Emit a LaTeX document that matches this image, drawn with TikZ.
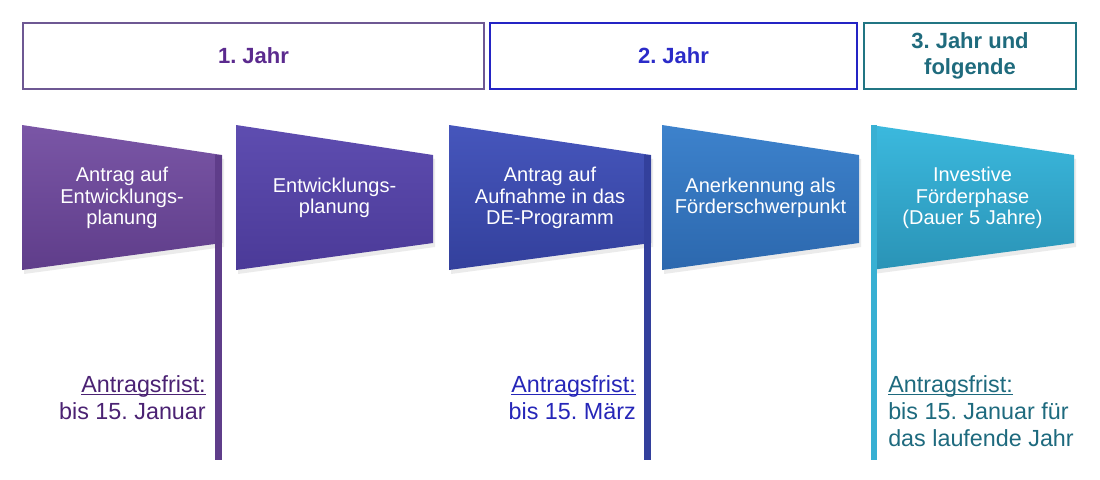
\documentclass[tikz,border=0pt]{standalone}
\usepackage{fontspec}
\setmainfont{Liberation Sans}
\frenchspacing

\definecolor{rLila}{HTML}{6E5893}
\definecolor{tLila}{HTML}{5B2A8E}
\definecolor{rBlau}{HTML}{2424C4}
\definecolor{tBlau}{HTML}{2B2BC8}
\definecolor{rTeal}{HTML}{217583}
\definecolor{tTeal}{HTML}{1F6B7D}
\definecolor{fLila}{HTML}{4B2273}
\definecolor{fBlau}{HTML}{2626B8}
\definecolor{fTeal}{HTML}{1E6A7E}
\definecolor{fa1}{HTML}{7A56A6}\definecolor{fa2}{HTML}{5F3D8A}
\definecolor{fb1}{HTML}{5E4DB0}\definecolor{fb2}{HTML}{4B3A98}
\definecolor{fc1}{HTML}{4656BC}\definecolor{fc2}{HTML}{33409C}
\definecolor{fd1}{HTML}{3D82CC}\definecolor{fd2}{HTML}{2C68AE}
\definecolor{fe1}{HTML}{3BB9DE}\definecolor{fe2}{HTML}{2A93B6}
\newcommand{\unterstrich}[1]{\setbox0\hbox{#1}\rlap{\rule[-0.12em]{\wd0}{0.06em}}\box0}

\begin{document}
\begin{tikzpicture}[x=0.75pt,y=-0.75pt,
    jahrbox/.style={draw=#1,line width=1.5pt,anchor=north west,align=center,
      font=\bfseries\fontsize{16.5}{19.5}\selectfont},
    flagtext/.style={text=white,align=center,font=\fontsize{15}{16.2}\selectfont},
    frist/.style={align=#1,inner sep=0pt,font=\fontsize{17.5}{20.25}\selectfont}]
  \useasboundingbox (0,0) rectangle (1100,479);
  % Jahre
  \node[jahrbox=rLila,text=tLila,minimum width=345.75pt,minimum height=49.5pt]
    (jahr1) at (22,22) {1. Jahr};
  \node[jahrbox=rBlau,text=tBlau,minimum width=275.25pt,minimum height=49.5pt]
    (jahr2) at (489,22) {2. Jahr};
  \node[jahrbox=rTeal,text=tTeal,minimum width=159pt,minimum height=49.5pt]
    (jahr3) at (863,22) {3. Jahr und\\folgende};
  % Fahnen
  \foreach \nm/\xa/\xb/\ca/\cb/\tx in {
      fahne1/22/222/fa1/fa2/{Antrag auf\\Entwicklungs-\\planung},
      fahne2/236/433/fb1/fb2/{Entwicklungs-\\planung},
      fahne3/449/651/fc1/fc2/{Antrag auf\\Aufnahme in das\\DE-Programm},
      fahne4/662/859/fd1/fd2/{Anerkennung als\\Förderschwerpunkt},
      fahne5/871/1074/fe1/fe2/{Investive\\Förderphase\\(Dauer 5 Jahre)}} {
    \fill[black,opacity=0.08] (\xa+2,129) -- (\xb+2,159) -- (\xb+2,247)
      -- (\xa+2,274) -- cycle;
    \shade[top color=\ca,bottom color=\cb] (\xa,125) -- (\xb,155) -- (\xb,243)
      -- (\xa,270) -- cycle;
    \node[flagtext] (\nm) at ({(\xa+\xb)/2},198) {\tx};
  }
  % Stangen
  \fill[fa2] (215,155) rectangle (222,460);
  \fill[fc2] (644,155) rectangle (651,460);
  \fill[fe1!95!black] (871,125) rectangle (877,460);
  % Fristen
  \node[frist=right,text=fLila,anchor=north east] (frist1) at (206,375)
    {\unterstrich{Antragsfrist:}\\bis 15. Januar};
  \node[frist=right,text=fBlau,anchor=north east] (frist2) at (636,375)
    {\unterstrich{Antragsfrist:}\\bis 15. März};
  \node[frist=left,text=fTeal,anchor=north west] (frist3) at (888,375)
    {\unterstrich{Antragsfrist:}\\bis 15. Januar für\\das laufende Jahr};
\end{tikzpicture}
\end{document}
